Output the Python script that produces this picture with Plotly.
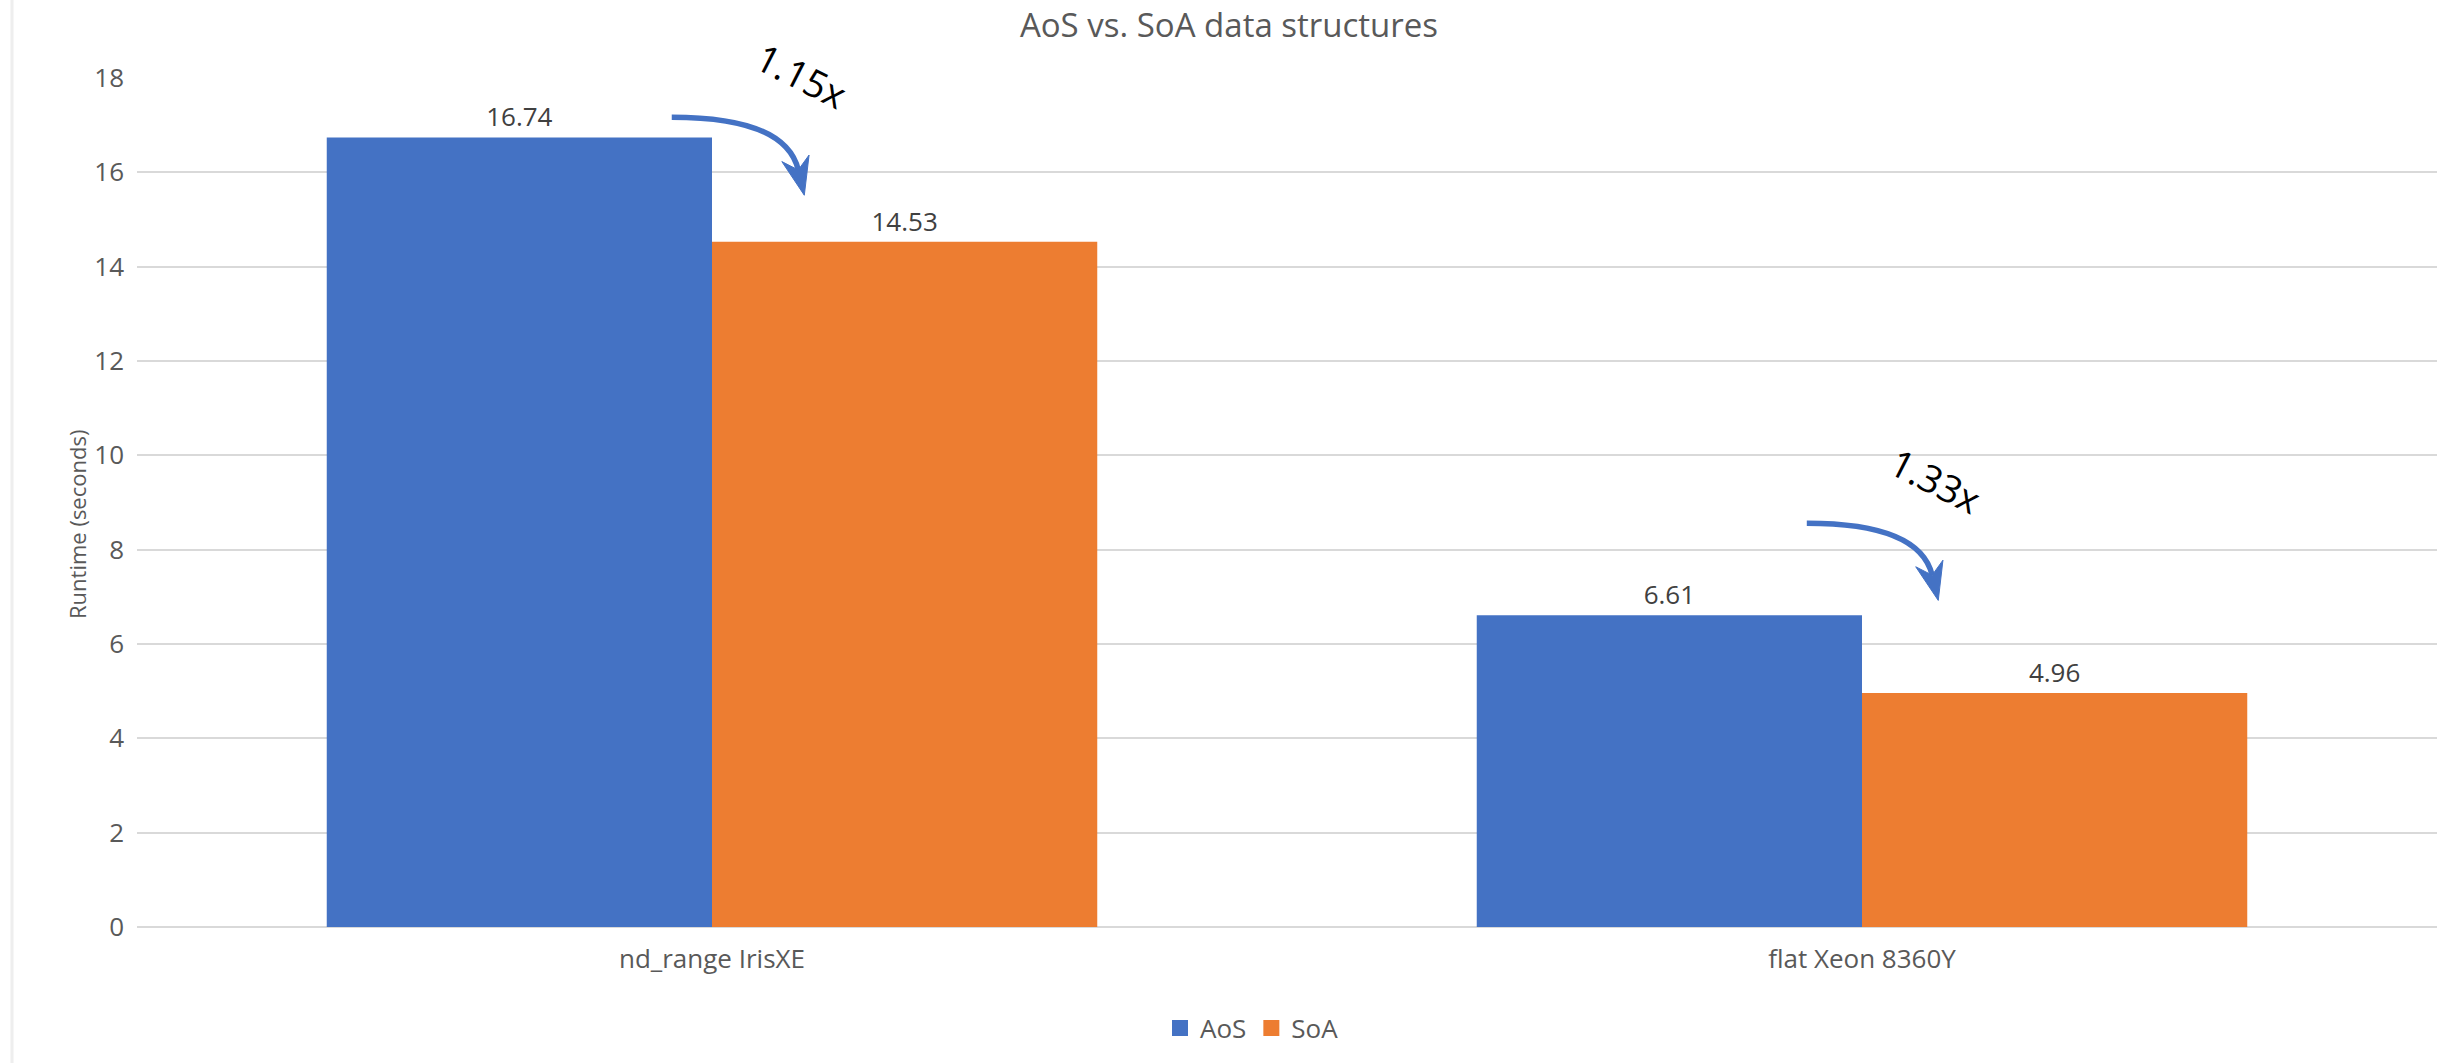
import math
import plotly.graph_objects as go

# ---- data -------------------------------------------------------------
categories = ["nd_range IrisXE", "flat Xeon 8360Y"]
aos_runtime = [16.74, 6.61]
soa_runtime = [14.53, 4.96]
series_names = ["AoS", "SoA"]
y_ticks = [0, 2, 4, 6, 8, 10, 12, 14, 16, 18]

# ---- styling / layout ---------------------------------------------------
W, H = 2458, 1063
MARGIN = dict(l=137, r=21, t=78, b=136)
X_RANGE = [-0.5, 1.5]
Y_RANGE = [0, 18]
BLUE = "#4472C4"
ORANGE = "#ED7D31"
GRID = "#D9D9D9"
TXT = "#595959"
LBL = "#404040"
FONT = "Open Sans"

# curved speed-up arrows: start / end points relative to each category
# (x offset in category units, y in axis units)
ARROW_START_DX = [-0.035, -0.048]
ARROW_START_Y = [17.17, 8.56]
ARROW_END_DX = [0.075, 0.061]
ARROW_END_Y = [16.05, 7.46]
HEAD_LEN = 38      # px
HEAD_HALF = 14     # px
HEAD_NOTCH = 26    # px from tip back to where the shaft joins

plot_w = W - MARGIN["l"] - MARGIN["r"]
plot_h = H - MARGIN["t"] - MARGIN["b"]
sx = plot_w / (X_RANGE[1] - X_RANGE[0])
sy = plot_h / (Y_RANGE[1] - Y_RANGE[0])


def to_px(x, y):
    return (MARGIN["l"] + (x - X_RANGE[0]) * sx,
            MARGIN["t"] + plot_h - (y - Y_RANGE[0]) * sy)


def to_data(px, py):
    return (X_RANGE[0] + (px - MARGIN["l"]) / sx,
            Y_RANGE[0] + (MARGIN["t"] + plot_h - py) / sy)


x_pos = list(range(len(categories)))

fig = go.Figure()
fig.add_trace(go.Bar(
    x=x_pos, y=aos_runtime, name=series_names[0], marker_color=BLUE,
    marker_line_width=0, text=[f"{v:.2f}" for v in aos_runtime],
    textposition="outside", textfont=dict(family=FONT, size=26, color=LBL),
    cliponaxis=False, showlegend=False,
))
fig.add_trace(go.Bar(
    x=x_pos, y=soa_runtime, name=series_names[1], marker_color=ORANGE,
    marker_line_width=0, text=[f"{v:.2f}" for v in soa_runtime],
    textposition="outside", textfont=dict(family=FONT, size=26, color=LBL),
    cliponaxis=False, showlegend=False,
))
# legend entries with larger square swatches
for name, col in zip(series_names, [BLUE, ORANGE]):
    fig.add_trace(go.Scatter(
        x=[None], y=[None], mode="markers", name=name,
        marker=dict(symbol="square", size=17, color=col),
    ))

shapes = []
annotations = []
for i in range(len(categories)):
    p0 = to_px(x_pos[i] + ARROW_START_DX[i], ARROW_START_Y[i])
    e = to_px(x_pos[i] + ARROW_END_DX[i], ARROW_END_Y[i])
    dx = e[0] - p0[0]
    p1 = (p0[0] + 0.9 * dx, p0[1])
    tx, ty = e[0] - p1[0], e[1] - p1[1]
    n = math.hypot(tx, ty)
    ux, uy = tx / n, ty / n
    nx, ny = -uy, ux
    tip = (e[0] + HEAD_NOTCH * ux, e[1] + HEAD_NOTCH * uy)
    back = (tip[0] - HEAD_LEN * ux, tip[1] - HEAD_LEN * uy)
    w1 = (back[0] + HEAD_HALF * nx, back[1] + HEAD_HALF * ny)
    w2 = (back[0] - HEAD_HALF * nx, back[1] - HEAD_HALF * ny)

    d0, d1, d2 = to_data(*p0), to_data(*p1), to_data(*e)
    shapes.append(dict(
        type="path", xref="x", yref="y",
        path=f"M {d0[0]},{d0[1]} Q {d1[0]},{d1[1]} {d2[0]},{d2[1]}",
        line=dict(color=BLUE, width=5.5),
    ))
    dt, dw1, dn, dw2 = to_data(*tip), to_data(*w1), to_data(*e), to_data(*w2)
    shapes.append(dict(
        type="path", xref="x", yref="y",
        path=(f"M {dt[0]},{dt[1]} L {dw1[0]},{dw1[1]} L {dn[0]},{dn[1]} "
              f"L {dw2[0]},{dw2[1]} Z"),
        fillcolor=BLUE, line=dict(color=BLUE, width=1),
    ))
    speedup = aos_runtime[i] / soa_runtime[i]
    annotations.append(dict(
        x=dt[0], y=dt[1], xref="x", yref="y", text=f"{speedup:.2f}x",
        showarrow=False, textangle=27, xshift=-3, yshift=120,
        font=dict(family=FONT, size=38, color="#000000"),
    ))

# y-axis title
annotations.append(dict(
    x=(60 - MARGIN["l"]) / plot_w, y=0.4735, xref="paper", yref="paper",
    text="Runtime (seconds)", textangle=-90, showarrow=False,
    font=dict(family=FONT, size=22, color=TXT),
))

# faint chart border on the left
shapes.append(dict(
    type="line", xref="paper", yref="paper",
    x0=(12 - MARGIN["l"]) / plot_w, x1=(12 - MARGIN["l"]) / plot_w,
    y0=-MARGIN["b"] / plot_h, y1=1 + MARGIN["t"] / plot_h,
    line=dict(color="#EEEEEE", width=3),
))

fig.update_layout(
    width=W, height=H, margin=MARGIN, autosize=False,
    paper_bgcolor="white", plot_bgcolor="white",
    barmode="group", bargap=0.33, bargroupgap=0,
    title=dict(text="AoS vs. SoA data structures", x=0.5, xanchor="center",
               y=1 - 25 / H, yanchor="middle",
               font=dict(family=FONT, size=33, color=TXT)),
    xaxis=dict(range=X_RANGE, tickmode="array", tickvals=x_pos,
               ticktext=categories, showgrid=False, zeroline=False,
               showline=False, ticks="", ticklabelstandoff=14,
               tickfont=dict(family=FONT, size=26, color=TXT)),
    yaxis=dict(range=Y_RANGE, tickmode="array", tickvals=y_ticks,
               showgrid=True, gridcolor=GRID, gridwidth=2,
               zeroline=True, zerolinecolor=GRID, zerolinewidth=2,
               showline=False, ticks="", ticklabelstandoff=12,
               tickfont=dict(family=FONT, size=26, color=TXT)),
    legend=dict(orientation="h", x=(1252 - MARGIN["l"]) / plot_w,
                xanchor="center", y=(927 - 1028) / plot_h, yanchor="middle",
                font=dict(family=FONT, size=26, color=TXT),
                itemwidth=30, tracegroupgap=0),
    shapes=shapes, annotations=annotations,
)

fig.write_html("out.html")
